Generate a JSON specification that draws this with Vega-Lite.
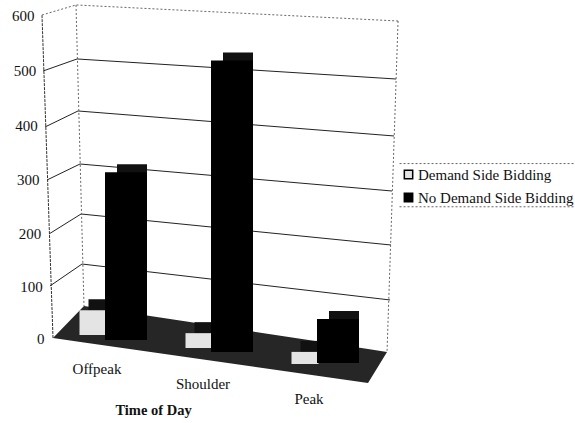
{
"$schema":"https://vega.github.io/schema/vega-lite/v6.json",
"width":575,"height":423,"padding":0,"autosize":{"type":"none"},"background":"white",
"config":{"view":{"stroke":null},"font":"Liberation Serif"},
"datasets":{
"grid":[
{"g":"100","o":0,"u":-0.029,"v":96.3},{"g":"100","o":1,"u":0.276,"v":137.0},{"g":"100","o":2,"u":3.21,"v":70.4},
{"g":"200","o":0,"u":-0.038,"v":192.6},{"g":"200","o":1,"u":0.267,"v":229.6},{"g":"200","o":2,"u":3.219,"v":172.2},
{"g":"300","o":0,"u":-0.057,"v":292.6},{"g":"300","o":1,"u":0.257,"v":322.2},{"g":"300","o":2,"u":3.229,"v":272.2},
{"g":"400","o":0,"u":-0.076,"v":390.7},{"g":"400","o":1,"u":0.238,"v":420.4},{"g":"400","o":2,"u":3.248,"v":374.1},
{"g":"500","o":0,"u":-0.095,"v":494.4},{"g":"500","o":1,"u":0.229,"v":516.7},{"g":"500","o":2,"u":3.267,"v":479.6}],
"edges":[
{"g":"top","o":0,"u":-0.105,"v":598.1},{"g":"top","o":1,"u":0.219,"v":616.7},{"g":"top","o":2,"u":3.286,"v":587},
{"g":"backleft","o":0,"u":0.219,"v":616.7},{"g":"backleft","o":1,"u":0.295,"v":59.3},
{"g":"backright","o":0,"u":3.286,"v":587},{"g":"backright","o":1,"u":3.181,"v":-25.9},
{"g":"legendtop","o":0,"u":3.3,"v":323},{"g":"legendtop","o":1,"u":4.97,"v":323},
{"g":"legendbottom","o":0,"u":3.3,"v":243},{"g":"legendbottom","o":1,"u":4.97,"v":243}],
"floor":[{"u":0,"v":0,"v2":0},{"u":0.295,"v":59.3,"v2":-8.1},{"u":3.0,"v":-20.4,"v2":-83.3},{"u":3.181,"v":-25.9,"v2":-25.9}],
"axisedge":[{"o":0,"u":0,"v":0},{"o":1,"u":-0.105,"v":600}],
"bars":[
{"time":"Offpeak","series":"Demand Side Bidding","value":45},
{"time":"Offpeak","series":"No Demand Side Bidding","value":305},
{"time":"Shoulder","series":"Demand Side Bidding","value":27},
{"time":"Shoulder","series":"No Demand Side Bidding","value":530},
{"time":"Peak","series":"Demand Side Bidding","value":22},
{"time":"Peak","series":"No Demand Side Bidding","value":80}]
},
"layer":[
{"data":{"name":"grid"},"mark":{"type":"line","stroke":"#222","strokeWidth":1},
"encoding":{"x":{"field":"u","type":"quantitative","axis":null,"scale":{"domain":[-0.5048,4.971],"nice":false,"zero":false}},
"y":{"field":"v","type":"quantitative","axis":null,"scale":{"domain":[-157.4,625.9],"nice":false,"zero":false}},
"detail":{"field":"g"},"order":{"field":"o"}}},
{"data":{"name":"edges"},"mark":{"type":"line","stroke":"#666","strokeWidth":1,"strokeDash":[2,2]},
"encoding":{"x":{"field":"u","type":"quantitative","axis":null,"scale":{"domain":[-0.5048,4.971],"nice":false,"zero":false}},
"y":{"field":"v","type":"quantitative","axis":null,"scale":{"domain":[-157.4,625.9],"nice":false,"zero":false}},
"detail":{"field":"g"},"order":{"field":"o"}}},
{"data":{"name":"floor"},"mark":{"type":"area","fill":"#262626"},
"encoding":{"x":{"field":"u","type":"quantitative","axis":null,"scale":{"domain":[-0.5048,4.971],"nice":false,"zero":false}},
"y":{"field":"v","type":"quantitative","axis":null,"scale":{"domain":[-157.4,625.9],"nice":false,"zero":false}},
"y2":{"field":"v2"}}},
{"data":{"name":"axisedge"},"mark":{"type":"line","stroke":"#333","strokeWidth":1,"strokeDash":[3,1]},
"encoding":{"x":{"field":"u","type":"quantitative","axis":null,"scale":{"domain":[-0.5048,4.971],"nice":false,"zero":false}},
"y":{"field":"v","type":"quantitative","scale":{"type":"pow","exponent":1.03,"domain":[0,600],"range":[338,15],"nice":false,"zero":false},
"axis":{"title":null,"orient":"left","offset":-46,"values":[0,100,200,300,400,500,600],"domain":false,"ticks":false,"tickSize":0,"grid":false,"labelFont":"Liberation Serif","labelFontSize":15,"labelColor":"#111",
"labelPadding":{"expr":"2+datum.value/60"}}},
"order":{"field":"o"}}},
{"data":{"name":"bars"},"mark":{"type":"bar","fill":"#111",
"width":{"expr":"datum.series==='Demand Side Bidding'?27:30"},
"yOffset":{"expr":"(datum.series==='Demand Side Bidding'?({'Offpeak':-5,'Shoulder':8,'Peak':24})[datum.time]-11:({'Offpeak':0,'Shoulder':12,'Peak':23})[datum.time]-8)"},
"y2Offset":{"expr":"(datum.series==='Demand Side Bidding'?({'Offpeak':-5,'Shoulder':8,'Peak':24})[datum.time]-11:({'Offpeak':0,'Shoulder':12,'Peak':23})[datum.time]-8)"}},
"encoding":{"x":{"field":"time","type":"nominal","axis":null,"sort":["Offpeak","Shoulder","Peak"],"scale":{"range":[60,378],"padding":0}},
"xOffset":{"field":"series","type":"nominal","scale":{"domain":["Demand Side Bidding","No Demand Side Bidding"],"range":[27,87],"padding":0}},
"y":{"field":"value","type":"quantitative","axis":null,"stack":null,"scale":{"domain":[0,600],"range":[340,10],"nice":false,"zero":false}},
"y2":{"datum":0}}},
{"data":{"name":"bars"},"mark":{"type":"bar",
"width":{"expr":"datum.series==='Demand Side Bidding'?27:42"},
"yOffset":{"expr":"(datum.series==='Demand Side Bidding'?({'Offpeak':-5,'Shoulder':8,'Peak':24})[datum.time]:({'Offpeak':0,'Shoulder':12,'Peak':23})[datum.time])"},
"y2Offset":{"expr":"(datum.series==='Demand Side Bidding'?({'Offpeak':-5,'Shoulder':8,'Peak':24})[datum.time]:({'Offpeak':0,'Shoulder':12,'Peak':23})[datum.time])"}},
"encoding":{"x":{"field":"time","type":"nominal","sort":["Offpeak","Shoulder","Peak"],"scale":{"range":[60,378],"padding":0},
"axis":{"title":"Time of Day","orient":"bottom","offset":-63,"domain":false,"ticks":false,"grid":false,"labelAngle":0,"labelFont":"Liberation Serif","labelFontSize":15,"labelColor":"#111","labelOffset":-16,"labelBaseline":"top",
"labelPadding":{"expr":"datum.value==='Offpeak'?1:datum.value==='Shoulder'?16:31"},
"titleFont":"Liberation Serif","titleFontSize":14.5,"titleFontWeight":"bold","titleColor":"#111","titleX":153,"titleY":50,"titleAlign":"center","titleBaseline":"middle"}},
"xOffset":{"field":"series","type":"nominal","scale":{"domain":["Demand Side Bidding","No Demand Side Bidding"],"range":[16.5,82.5],"padding":0}},
"y":{"field":"value","type":"quantitative","axis":null,"stack":null,"scale":{"domain":[0,600],"range":[340,10],"nice":false,"zero":false}},
"y2":{"datum":0},
"color":{"field":"series","type":"nominal","scale":{"domain":["Demand Side Bidding","No Demand Side Bidding"],"range":["#e4e4e4","#000000"]},
"legend":{"title":null,"orient":"none","legendX":401,"legendY":167,"symbolType":"square","symbolSize":70,"symbolStrokeColor":"#000","symbolStrokeWidth":1.5,"labelFont":"Liberation Serif","labelFontSize":15,"labelColor":"#111","rowPadding":7,"labelOffset":2,"labelLimit":200}}}}
],
"resolve":{"scale":{"x":"independent","y":"independent","xOffset":"independent"}}
}
